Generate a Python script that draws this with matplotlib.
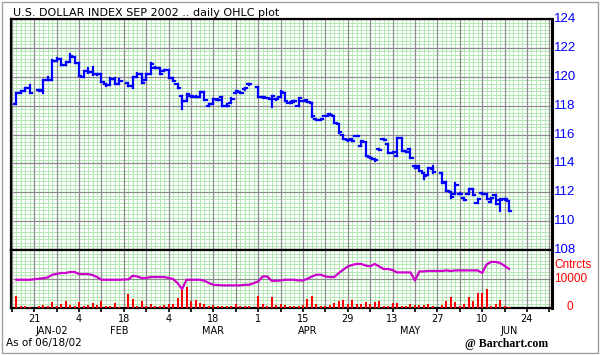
import numpy as np
import matplotlib
matplotlib.use('Agg')
import matplotlib.pyplot as plt
from matplotlib.ticker import FixedLocator, NullFormatter
from matplotlib.patches import Rectangle

# ---------------- data ----------------
dates = ['2002-01-15', '2002-01-16', '2002-01-17', '2002-01-18',
         '2002-01-22', '2002-01-23', '2002-01-24', '2002-01-25',
         '2002-01-28', '2002-01-29', '2002-01-30', '2002-01-31', '2002-02-01',
         '2002-02-04', '2002-02-05', '2002-02-06', '2002-02-07', '2002-02-08',
         '2002-02-11', '2002-02-12', '2002-02-13', '2002-02-14', '2002-02-15',
         '2002-02-19', '2002-02-20', '2002-02-21', '2002-02-22',
         '2002-02-25', '2002-02-26', '2002-02-27', '2002-02-28', '2002-03-01',
         '2002-03-04', '2002-03-05', '2002-03-06', '2002-03-07', '2002-03-08',
         '2002-03-11', '2002-03-12', '2002-03-13', '2002-03-14', '2002-03-15',
         '2002-03-18', '2002-03-19', '2002-03-20', '2002-03-21', '2002-03-22',
         '2002-03-25', '2002-03-26', '2002-03-27', '2002-03-28',
         '2002-04-01', '2002-04-02', '2002-04-03', '2002-04-04', '2002-04-05',
         '2002-04-08', '2002-04-09', '2002-04-10', '2002-04-11', '2002-04-12',
         '2002-04-15', '2002-04-16', '2002-04-17', '2002-04-18', '2002-04-19',
         '2002-04-22', '2002-04-23', '2002-04-24', '2002-04-25', '2002-04-26',
         '2002-04-29', '2002-04-30', '2002-05-01', '2002-05-02', '2002-05-03',
         '2002-05-06', '2002-05-07', '2002-05-08', '2002-05-09', '2002-05-10',
         '2002-05-13', '2002-05-14', '2002-05-15', '2002-05-16', '2002-05-17',
         '2002-05-20', '2002-05-21', '2002-05-22', '2002-05-23', '2002-05-24',
         '2002-05-28', '2002-05-29', '2002-05-30', '2002-05-31',
         '2002-06-03', '2002-06-04', '2002-06-05', '2002-06-06', '2002-06-07',
         '2002-06-10', '2002-06-11', '2002-06-12', '2002-06-13', '2002-06-14',
         '2002-06-17', '2002-06-18']

opens = [118.1, 118.9, 119.0, 119.2,
         119.1, 119.0, 119.8, 119.8,
         121.1, 121.2, 120.8, 121.0, 121.4,
         120.95, 120.0, 120.4, 120.3, 120.16,
         120.2, 119.5, 119.4, 119.86, 119.47,
         119.6, 119.35, 119.97, 120.2,
         119.8, 120.2, 120.62, 120.62, 120.4,
         120.44, 119.88, 119.47, 118.66, 118.31,
         118.7, 118.62, 118.62, 118.93, 118.0,
         118.08, 118.36, 118.6, 117.97, 118.2,
         118.9, 118.95, 119.12, 119.47,
         119.28, 118.59, 118.5, 118.43, 118.43,
         118.6, 118.9, 118.2, 118.3, 117.97,
         118.31, 118.36, 118.2, 117.1, 117.0,
         117.27, 117.39, 117.27, 116.7, 116.0,
         115.6, 115.66, 115.93, 115.2, 115.45,
         114.45, 114.3, 114.97, 115.71, 115.31,
         114.74, 114.5, 115.78, 114.85, 114.97,
         113.8, 113.8, 113.31, 113.2, 113.6,
         113.36, 112.7, 112.0, 111.9,
         111.85, 111.62, 111.85, 112.25, 111.28,
         111.92, 111.85, 111.3, 111.79, 111.45,
         111.51, 111.4]

highs = [118.9, 119.0, 119.2, 119.45,
         119.1, 119.8, 120.0, 121.15,
         121.3, 121.2, 121.0, 121.55, 121.4,
         120.95, 120.4, 120.62, 120.7, 120.22,
         120.2, 119.5, 119.88, 119.88, 119.82,
         119.6, 120.0, 120.23, 120.2,
         120.2, 120.92, 120.65, 120.62, 120.45,
         120.45, 119.88, 119.47, 118.7, 118.82,
         118.7, 118.66, 118.93, 118.93, 118.1,
         118.43, 118.43, 118.6, 118.1, 118.5,
         119.0, 118.95, 119.2, 119.5,
         119.3, 118.6, 118.55, 118.66, 118.45,
         119.0, 118.9, 118.25, 118.32, 118.5,
         118.35, 118.36, 118.2, 117.1, 117.08,
         117.3, 117.39, 117.27, 116.7, 116.0,
         115.62, 115.66, 115.93, 115.54, 115.45,
         114.45, 114.3, 114.97, 115.71, 115.31,
         114.82, 115.78, 115.78, 114.85, 114.97,
         113.85, 113.8, 113.31, 113.7, 113.81,
         113.36, 112.7, 112.0, 112.67,
         111.92, 111.62, 112.2, 112.25, 111.5,
         111.92, 111.85, 111.62, 111.8, 111.51,
         111.55, 111.4]

lows = [118.1, 118.9, 119.0, 118.9,
        119.0, 118.85, 119.75, 119.8,
        121.1, 120.8, 120.8, 121.0, 120.95,
        120.05, 119.97, 120.28, 120.15, 120.15,
        119.65, 119.35, 119.4, 119.47, 119.47,
        119.35, 119.24, 119.97, 119.58,
        119.8, 120.2, 120.6, 120.2, 120.4,
        119.88, 119.7, 119.24, 117.74, 118.31,
        118.62, 118.6, 118.62, 118.36, 117.97,
        118.08, 118.36, 117.97, 117.95, 118.2,
        118.9, 118.9, 119.1, 119.45,
        118.59, 118.55, 118.5, 117.92, 118.4,
        118.6, 118.31, 118.2, 118.28, 117.97,
        118.3, 118.24, 117.2, 116.98, 116.98,
        117.25, 117.33, 116.77, 116.12, 115.66,
        115.58, 115.54, 115.88, 115.2, 114.5,
        114.38, 114.16, 114.9, 115.65, 114.74,
        114.74, 114.5, 114.85, 114.78, 114.4,
        113.7, 113.47, 112.9, 113.2, 113.36,
        112.67, 112.08, 111.62, 111.9,
        111.85, 111.45, 111.85, 111.8, 111.28,
        111.85, 111.5, 111.3, 111.2, 110.7,
        111.48, 110.7]

closes = [118.9, 119.0, 119.2, 118.9,
          119.05, 119.8, 119.8, 121.1,
          121.2, 120.8, 121.0, 121.45, 120.97,
          120.05, 120.4, 120.3, 120.16, 120.2,
          119.65, 119.4, 119.86, 119.47, 119.7,
          119.35, 119.97, 120.2, 119.58,
          120.2, 120.9, 120.62, 120.2, 120.44,
          119.88, 119.7, 119.24, 118.31, 118.82,
          118.66, 118.62, 118.93, 118.36, 118.08,
          118.43, 118.36, 117.97, 117.97, 118.45,
          119.0, 118.9, 119.2, 119.5,
          118.59, 118.59, 118.5, 118.66, 118.43,
          118.96, 118.31, 118.2, 118.3, 118.5,
          118.31, 118.24, 117.27, 117.0, 117.05,
          117.27, 117.33, 116.77, 116.2, 115.66,
          115.6, 115.54, 115.9, 115.54, 114.5,
          114.4, 114.2, 114.9, 115.65, 114.74,
          114.8, 115.78, 114.85, 114.8, 114.4,
          113.7, 113.5, 113.1, 113.7, 113.4,
          112.67, 112.1, 111.65, 112.5,
          111.9, 111.45, 112.2, 111.8, 111.5,
          111.85, 111.5, 111.6, 111.2, 111.45,
          111.5, 110.7]

volume = [4040, 530, 530, 300,
          530, 880, 400, 2050,
          530, 1230, 2280, 880, 530,
          2050, 530, 880, 1700, 880,
          2400, 530, 530, 1700, 300,
          4740, 2870, 400, 2280,
          530, 1230, 530, 530, 880,
          1230, 1230, 3220, 6370, 7080,
          2400, 2630, 1700, 1230, 530,
          880, 530, 530, 530, 530,
          1230, 530, 530, 530,
          4040, 1230, 530, 3570, 880,
          1230, 880, 530, 530, 530,
          880, 2870, 4150, 1050, 530,
          530, 880, 1700, 2400, 2630,
          1230, 2630, 1230, 1230, 2050,
          1230, 2050, 2400, 530, 530,
          1700, 1700, 530, 530, 1230,
          880, 880, 880, 1230, 400,
          880, 2280, 3800, 2050,
          530, 1230, 3800, 2280, 5200,
          4970, 6370, 530, 1230, 2630,
          530, 300]

open_interest = [9650, 9650, 9650, 9650,
                 10000, 10200, 10450, 11400,
                 11700, 12000, 12000, 12350, 12350,
                 11650, 11650, 11650, 11300, 10600,
                 9650, 9650, 9650, 9650, 9650,
                 9800, 11050, 10800, 10250,
                 10250, 10600, 10600, 10600, 10600,
                 10250, 9900, 8500, 6400, 9650,
                 9650, 9650, 9650, 9300, 8500,
                 7900, 7800, 7700, 7700, 7700,
                 7700, 7700, 7900, 7900,
                 9060, 10800, 10800, 9300, 9300,
                 9400, 9650, 9650, 9650, 9400,
                 9400, 10000, 10800, 11400, 11400,
                 10800, 10600, 10600, 12000, 13150,
                 14300, 14800, 15150, 15150, 14600,
                 14300, 15150, 14300, 13400, 13400,
                 13000, 12200, 12200, 12200, 12200,
                 9400, 12560, 12560, 12700, 12700,
                 12700, 12900, 12700, 12900,
                 12900, 12900, 12900, 12900, 12900,
                 12000, 15000, 15850, 15850, 15500,
                 14500, 13400]

price_ticks = [108, 110, 112, 114, 116, 118, 120, 122, 124]
day_label_dates = ['2002-01-21', '2002-02-04', '2002-02-18', '2002-03-04',
                   '2002-03-18', '2002-04-01', '2002-04-15', '2002-04-29',
                   '2002-05-13', '2002-05-27', '2002-06-10', '2002-06-24']
day_labels = ['21', '4', '18', '4', '18', '1', '15', '29', '13', '27', '10', '24']
month_label_dates = ['2002-01-25', '2002-02-15', '2002-03-18',
                     '2002-04-16', '2002-05-17', '2002-06-18']
month_labels = ['JAN-02', 'FEB', 'MAR', 'APR', 'MAY', 'JUN']

title = 'U.S. DOLLAR INDEX SEP 2002 .. daily OHLC plot'
asof = 'As of 06/18/02'
credit = '@ Barchart.com'

# ---------------- helpers ----------------
ORIGIN = np.datetime64('2002-01-14')


def bidx(ds):
    return np.busday_count(ORIGIN, np.array(ds, dtype='datetime64[D]')).astype(float)


x = bidx(dates)
xd = bidx(day_label_dates)
xm = bidx(month_label_dates)

BLUE = '#0000ff'
RED = '#ff0000'
MAG = '#cc00cc'
GREEN = '#b4e8b4'
GRAY = '#8c8c8c'
RFONT = 'Liberation Sans'

W, H = 600, 355
fig = plt.figure(figsize=(W / 100, H / 100), dpi=100)
fig.patch.set_facecolor('white')

left, right = 11, 552
ax = fig.add_axes([left / W, (H - 250) / H, (right - left) / W, 231 / H])
axv = fig.add_axes([left / W, (H - 307.5) / H, (right - left) / W, 57.5 / H], sharex=ax)

XMIN, XMAX = -0.2, 120.6


def gridify(a, ymin, ymax, minor_step, major_vals):
    for v in np.arange(0, 121, 1):
        if v % 5 != 0:
            a.axvline(v, color=GREEN, lw=0.7, zorder=0)
    for v in np.arange(ymin, ymax + 1e-9, minor_step):
        a.axhline(v, color=GREEN, lw=0.7, zorder=0)
    for v in np.arange(0, 121, 5):
        a.axvline(v, color=GRAY, lw=0.9, zorder=1)
    for v in major_vals:
        a.axhline(v, color=GRAY, lw=0.9, zorder=1)


# ---- price panel
ax.set_xlim(XMIN, XMAX)
ax.set_ylim(108, 124)
gridify(ax, 108, 124, 0.25, price_ticks)
lw = 1.6
ax.vlines(x, lows, highs, color=BLUE, lw=lw, zorder=3, capstyle='projecting')
ax.hlines(opens, x - 0.5, x, color=BLUE, lw=lw, zorder=3, capstyle='projecting')
ax.hlines(closes, x, x + 0.5, color=BLUE, lw=lw, zorder=3, capstyle='projecting')
ax.set_xticks([])
ax.set_yticks([])
for p in price_ticks:
    ax.text(1.004, p, str(p), transform=ax.get_yaxis_transform(), color=BLUE,
            fontsize=9.5, family=RFONT, ha='left', va='center')

# ---- volume / open interest panel
axv.set_ylim(0, 20000)
gridify(axv, 0, 20000, 1250, [10000])
axv.bar(x, volume, width=0.45, color=RED, zorder=3)
axv.plot(x, open_interest, color=MAG, lw=1.6, zorder=4)
axv.set_xlim(XMIN, XMAX)
axv.set_yticks([])
axv.xaxis.set_major_locator(FixedLocator(np.arange(0, 121, 5)))
axv.xaxis.set_major_formatter(NullFormatter())
axv.tick_params(axis='x', direction='out', length=3.2, width=1.2, color='black')
for xv, lab in zip(xd, day_labels):
    axv.text(xv, -0.2, lab, transform=axv.get_xaxis_transform(), fontsize=7,
             ha='center', va='center', color='black')
for xv, lab in zip(xm, month_labels):
    axv.text(xv, -0.4, lab, transform=axv.get_xaxis_transform(), fontsize=7,
             ha='center', va='center', color='black')
axv.text(1.004, 14800, 'Cntrcts', transform=axv.get_yaxis_transform(), color=RED,
         fontsize=8.5, family=RFONT, ha='left', va='center')
axv.text(1.004, 9900, '10000', transform=axv.get_yaxis_transform(), color=RED,
         fontsize=8.5, family=RFONT, ha='left', va='center')
axv.text(1.027, 0, '0', transform=axv.get_yaxis_transform(), color=RED,
         fontsize=8.5, family=RFONT, ha='left', va='center')

for a in (ax, axv):
    for s in a.spines.values():
        s.set_color('black')
        s.set_linewidth(1.6)
    a.spines['right'].set_linewidth(2.2)
    a.set_facecolor('white')

# ---- texts
fig.text(13 / W, 1 - 13 / H, title, fontsize=8, ha='left', va='center', color='black')
fig.text(6 / W, 1 - 343 / H, asof, fontsize=7.5, ha='left', va='center', color='black')
fig.text(548 / W, 1 - 344 / H, credit, fontsize=8.5, ha='right', va='center',
         color='black', family='Liberation Serif', weight='bold')

fig.add_artist(Rectangle((1.7 / W, 1.7 / H), 596.3 / W, 351.6 / H,
                         transform=fig.transFigure, fill=False,
                         ec='#a0a0a0', lw=1.0))

fig.savefig('out.png', dpi=100, facecolor='white')
